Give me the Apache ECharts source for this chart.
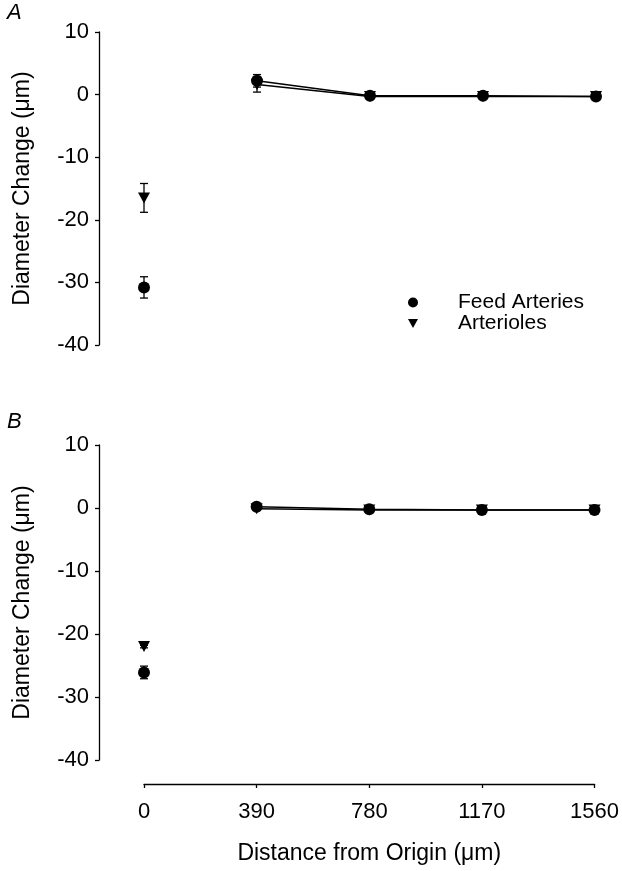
<!DOCTYPE html>
<html>
<head>
<meta charset="utf-8">
<script src="https://cdn.jsdelivr.net/npm/echarts@6/dist/echarts.min.js"></script>
<style>html,body{margin:0;padding:0;background:#fff}#c{width:622px;height:871px}</style>
</head>
<body>
<div id="c"></div>
<script>
// ---- data ----
var distances = [0, 390, 780, 1170, 1560];
var xTicks = [0, 390, 780, 1170, 1560];
var seriesNames = ['Feed Arteries', 'Arterioles'];
// Panel A
var feedA = [-30.8, 2.2, -0.2, -0.2, -0.3];
var feedAErr = [1.7, 1.0, 0.2, 0.2, 0.2];
var artA = [-16.5, 1.6, -0.3, -0.3, -0.3];
var artAErr = [2.3, 1.2, 0.2, 0.2, 0.2];
// Panel B
var feedB = [-26.1, 0.2, -0.2, -0.3, -0.3];
var feedBErr = [1.0, 0.3, 0.2, 0.2, 0.2];
var artB = [-22.0, -0.1, -0.3, -0.3, -0.3];
var artBErr = [0.2, 0.2, 0.2, 0.2, 0.2];

var FONT = '"Liberation Sans", Arial, sans-serif';
var triPath = 'path://M0,0L10,0L5,9Z';

function pts(vals) { return distances.map(function (d, i) { return [d, vals[i]]; }); }
function linePts(vals) { return distances.slice(1).map(function (d, i) { return [d, vals[i + 1]]; }); }
function errPts(vals, errs) { return distances.map(function (d, i) { return [d, vals[i], errs[i]]; }); }

function errSeries(vals, errs, gi) {
  return {
    type: 'custom', xAxisIndex: gi, yAxisIndex: gi, silent: true, z: 1,
    data: errPts(vals, errs),
    renderItem: function (params, api) {
      var x = api.value(0), y = api.value(1), e = api.value(2);
      var top = api.coord([x, y + e]);
      var bot = api.coord([x, y - e]);
      var w = 4;
      var st = { stroke: '#000', lineWidth: 1.3 };
      return {
        type: 'group', children: [
          { type: 'line', shape: { x1: top[0], y1: top[1], x2: bot[0], y2: bot[1] }, style: st },
          { type: 'line', shape: { x1: top[0] - w, y1: top[1], x2: top[0] + w, y2: top[1] }, style: st },
          { type: 'line', shape: { x1: bot[0] - w, y1: bot[1], x2: bot[0] + w, y2: bot[1] }, style: st }
        ]
      };
    }
  };
}
function lineSeries(vals, gi) {
  return { type: 'line', xAxisIndex: gi, yAxisIndex: gi, data: linePts(vals), showSymbol: false, silent: true,
    lineStyle: { color: '#000', width: 1.5 }, z: 2 };
}
function markSeries(name, vals, gi, sym, size) {
  return { type: 'scatter', name: name, xAxisIndex: gi, yAxisIndex: gi, data: pts(vals), symbol: sym,
    symbolSize: size, itemStyle: { color: '#000', opacity: 1 }, z: 3 };
}

var yAxisBase = function (gi) {
  return {
    gridIndex: gi, type: 'value', min: -40, max: 10, interval: 10, offset: 45,
    name: 'Diameter Change (\u03bcm)', nameLocation: 'middle', nameGap: 65, nameRotate: 90,
    nameTextStyle: { fontFamily: FONT, fontSize: 23, color: '#000' },
    axisLine: { show: true, onZero: false, lineStyle: { color: '#000', width: 1.3 } },
    axisTick: { show: true, length: 4, lineStyle: { color: '#000', width: 1.3 } },
    axisLabel: { fontFamily: FONT, fontSize: 22, color: '#000', margin: 10 },
    splitLine: { show: false }
  };
};

var option = {
  backgroundColor: '#fff',
  animation: false,
  grid: [
    { left: 144, width: 452, top: 32, height: 313 },
    { left: 144, width: 452, top: 445, height: 315 }
  ],
  xAxis: [
    { gridIndex: 0, type: 'value', min: 0, max: 1560, show: false, axisLine: { onZero: false }, splitLine: { show: false } },
    { gridIndex: 1, type: 'value', min: 0, max: 1560, interval: 390, offset: 24,
      name: 'Distance from Origin (\u03bcm)', nameLocation: 'middle', nameGap: 58,
      nameTextStyle: { fontFamily: FONT, fontSize: 23, color: '#000' },
      axisLine: { show: true, onZero: false, lineStyle: { color: '#000', width: 1.3 } },
      axisTick: { show: true, length: 4, lineStyle: { color: '#000', width: 1.3 } },
      axisLabel: { fontFamily: FONT, fontSize: 22, color: '#000', margin: 17,
        formatter: function (v) { return xTicks.indexOf(v) >= 0 ? String(v) : ''; } },
      splitLine: { show: false } }
  ],
  yAxis: [yAxisBase(0), yAxisBase(1)],
  title: [
    { text: 'A', left: 2, top: -3, textStyle: { fontFamily: FONT, fontSize: 22, fontStyle: 'italic', fontWeight: 'normal', color: '#000' } },
    { text: 'B', left: 2, top: 406, textStyle: { fontFamily: FONT, fontSize: 22, fontStyle: 'italic', fontWeight: 'normal', color: '#000' } }
  ],
  legend: {
    data: [
      { name: seriesNames[0], icon: 'circle' },
      { name: seriesNames[1], icon: triPath }
    ],
    orient: 'vertical', left: 403, top: 287, itemWidth: 10, itemHeight: 10, itemGap: 0,
    selectedMode: false,
    textStyle: { fontFamily: FONT, fontSize: 21, color: '#000', lineHeight: 20, padding: [0, 0, 0, 35] }
  },
  series: [
    errSeries(feedA, feedAErr, 0), errSeries(artA, artAErr, 0),
    lineSeries(feedA, 0), lineSeries(artA, 0),
    markSeries(seriesNames[0], feedA, 0, 'circle', 12),
    markSeries(seriesNames[1], artA, 0, triPath, [12, 11]),
    errSeries(feedB, feedBErr, 1), errSeries(artB, artBErr, 1),
    lineSeries(feedB, 1), lineSeries(artB, 1),
    markSeries(seriesNames[0], feedB, 1, 'circle', 12),
    markSeries(seriesNames[1], artB, 1, triPath, [12, 11])
  ]
};
var chart = echarts.init(document.getElementById('c'), null, { renderer: 'canvas' });
chart.setOption(option);
</script>
</body>
</html>
